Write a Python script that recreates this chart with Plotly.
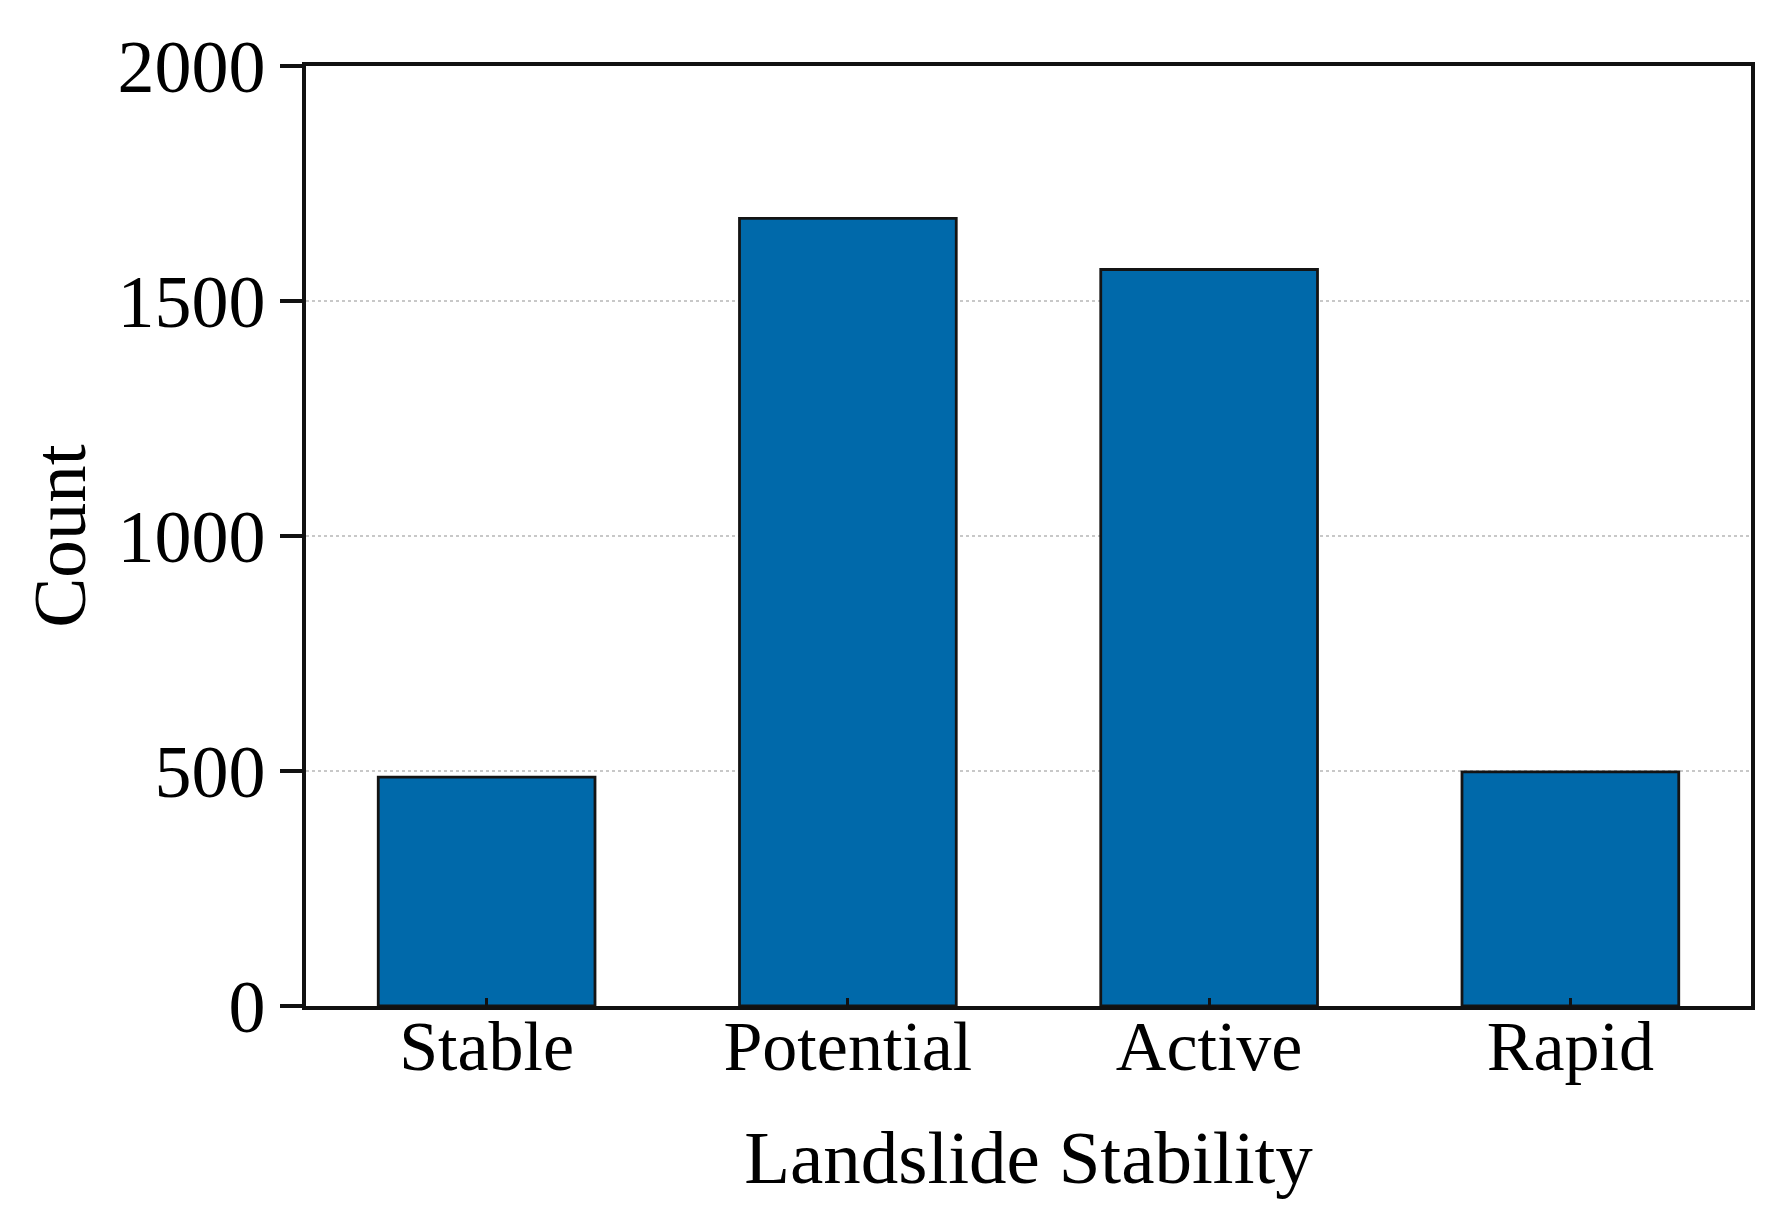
import plotly.graph_objects as go

categories = ["Stable", "Potential", "Active", "Rapid"]
counts = [487, 1676, 1567, 498]
y_ticks = [0, 500, 1000, 1500, 2000]

FONT = "Liberation Serif, Times New Roman, serif"

fig = go.Figure(
    go.Bar(
        x=categories,
        y=counts,
        width=0.6,
        marker=dict(color="#0069AA", line=dict(color="#141414", width=2.8)),
    )
)

fig.update_layout(
    width=1773,
    height=1227,
    margin=dict(l=298, r=30, t=58, b=229),
    paper_bgcolor="white",
    plot_bgcolor="white",
    showlegend=False,
    font=dict(family=FONT, color="black"),
)

fig.update_xaxes(
    range=[-0.5, 3.5],
    showline=True,
    linecolor="#111111",
    linewidth=3.5,
    mirror=True,
    ticks="inside",
    ticklen=8,
    tickwidth=2.5,
    tickcolor="#111111",
    tickfont=dict(family=FONT, size=70, color="black"),
    ticklabelstandoff=-24,
    title=dict(text="Landslide Stability", font=dict(family=FONT, size=75, color="black"), standoff=48),
    showgrid=False,
)

fig.update_yaxes(
    range=[0, 2000],
    tickvals=y_ticks,
    ticktext=[str(v) for v in y_ticks],
    showline=True,
    linecolor="#111111",
    linewidth=3.5,
    mirror=True,
    ticks="outside",
    ticklen=22,
    tickwidth=3.5,
    tickcolor="#111111",
    tickfont=dict(family=FONT, size=74, color="black"),
    title=dict(text="Count", font=dict(family=FONT, size=75, color="black"), standoff=8),
    showgrid=True,
    gridcolor="#c8c8c8",
    gridwidth=1.5,
    griddash="dot",
    zeroline=False,
)

fig.write_html("out.html")
